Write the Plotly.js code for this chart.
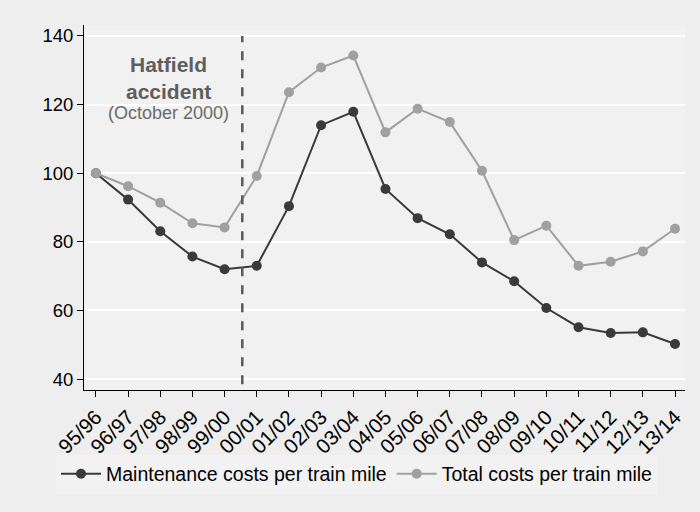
<!DOCTYPE html>
<html>
<head>
<meta charset="utf-8">
<script src="https://cdn.plot.ly/plotly-3.0.1.min.js"></script>
<style>html,body{margin:0;padding:0;background:#EEEEEE;}</style>
</head>
<body>
<div id="chart" style="width:700px;height:512px;"></div>
<script>
const years = ["95/96","96/97","97/98","98/99","99/00","00/01","01/02","02/03","03/04","04/05","05/06","06/07","07/08","08/09","09/10","10/11","11/12","12/13","13/14"];
const maintenance = [100, 92.3, 83.1, 75.7, 72.0, 73.0, 90.4, 114.0, 117.9, 95.4, 86.9, 82.2, 74.0, 68.5, 60.7, 55.1, 53.4, 53.6, 50.2];
const total = [100, 96.2, 91.4, 85.4, 84.2, 99.2, 123.6, 130.8, 134.3, 111.9, 118.8, 114.9, 100.7, 80.5, 84.7, 73.0, 74.2, 77.2, 83.8];
const yTicks = [40, 60, 80, 100, 120, 140];
const accidentX = 4.55;

const idx = years.map((_, i) => i);
const font = "Liberation Sans, Arial, sans-serif";

const traces = [
  {x: idx, y: maintenance, type: "scatter", mode: "lines+markers", name: "Maintenance costs per train mile",
   line: {color: "#3A3A3A", width: 2}, marker: {color: "#3A3A3A", size: 10}},
  {x: idx, y: total, type: "scatter", mode: "lines+markers", name: "Total costs per train mile",
   line: {color: "#A0A0A0", width: 2}, marker: {color: "#A0A0A0", size: 10}}
];

const layout = {
  width: 700, height: 512,
  paper_bgcolor: "#EEEEEE", plot_bgcolor: "#F1F1F1",
  margin: {l: 84, r: 15, t: 25, b: 122},
  font: {family: font, size: 18, color: "#000"},
  showlegend: true,
  xaxis: {
    range: [-0.37, 18.31], tickmode: "array", tickvals: idx, ticktext: years,
    tickangle: -45, ticks: "outside", ticklen: 6, tickcolor: "#000", tickwidth: 1,
    showline: true, linecolor: "#000", linewidth: 1, showgrid: false, zeroline: false,
    tickfont: {family: font, size: 20.5, color: "#000"}
  },
  yaxis: {
    range: [36.8, 143.2], tickmode: "array", tickvals: yTicks,
    ticks: "outside", ticklen: 6, tickcolor: "#000", tickwidth: 1,
    showline: true, linecolor: "#000", linewidth: 1,
    showgrid: true, gridcolor: "#FFFFFF", gridwidth: 2, zeroline: false,
    tickfont: {family: font, size: 18.5, color: "#000"}
  },
  legend: {
    orientation: "h", xref: "container", yref: "container",
    x: 0.08, xanchor: "left", y: 0.074, yanchor: "middle",
    bgcolor: "#F2F2F2", font: {family: font, size: 19.5, color: "#000"},
    itemwidth: 40, tracegroupgap: 0
  },
  shapes: [{
    type: "line", xref: "x", yref: "y", x0: accidentX, x1: accidentX, y0: 38.5, y1: 140,
    line: {color: "#5A5A5A", width: 2.5, dash: "dash"}
  }],
  annotations: [
    {x: 2.26, y: 131.8, xref: "x", yref: "y", text: "<b>Hatfield</b>", showarrow: false,
     font: {family: font, size: 21, color: "#5E5E5E"}},
    {x: 2.26, y: 123.8, xref: "x", yref: "y", text: "<b>accident</b>", showarrow: false,
     font: {family: font, size: 21, color: "#5E5E5E"}},
    {x: 2.26, y: 117.6, xref: "x", yref: "y", text: "(October 2000)", showarrow: false,
     font: {family: font, size: 18, color: "#6A6A6A"}}
  ]
};

Plotly.newPlot("chart", traces, layout, {displayModeBar: false, staticPlot: true});
</script>
</body>
</html>
